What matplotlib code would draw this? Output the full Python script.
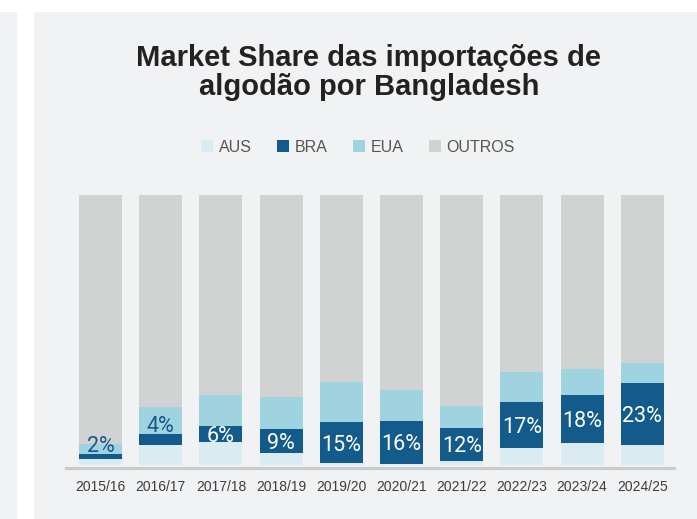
import matplotlib
matplotlib.use("Agg")
import matplotlib.pyplot as plt
from matplotlib.patches import Rectangle, Patch

# dados (% do market share)
safras = ["2015/16", "2016/17", "2017/18", "2018/19", "2019/20",
          "2020/21", "2021/22", "2022/23", "2023/24", "2024/25"]
aus = [2.2, 7.4, 8.4, 4.3, 0.8, 0.4, 1.6, 6.2, 8.0, 7.3]
bra = [2, 4, 6, 9, 15, 16, 12, 17, 18, 23]
eua = [3.4, 10.0, 11.6, 12.0, 15.0, 11.5, 8.1, 11.1, 9.5, 7.4]
outros = [92.4, 78.6, 74.0, 74.7, 69.2, 72.1, 78.3, 65.7, 64.5, 62.3]

cores = {"AUS": "#d9ecf2", "BRA": "#135b8a", "EUA": "#9fd3e0", "OUTROS": "#d1d2d2"}
fundo = "#f1f2f4"

W, H = 697, 519
fig = plt.figure(figsize=(W / 100, H / 100), dpi=100)
fig.patch.set_facecolor("white")

# paineis cinza do fundo
fig.patches.append(Rectangle((0, 0), 16.5 / W, 1 - 12 / H, transform=fig.transFigure,
                             facecolor=fundo, edgecolor="none", zorder=-5))
fig.patches.append(Rectangle((34 / W, 0), 1 - 34 / W, 1 - 12 / H, transform=fig.transFigure,
                             facecolor=fundo, edgecolor="none", zorder=-5))

ax = fig.add_axes([66 / W, (H - 465) / H, 608 / W, 270 / H])
ax.set_facecolor("none")

x = list(range(len(safras)))
larg = 0.714
base = [0] * len(x)
for nome, vals in [("AUS", aus), ("BRA", bra), ("EUA", eua), ("OUTROS", outros)]:
    ax.bar(x, vals, width=larg, bottom=base, color=cores[nome], edgecolor="none", zorder=2)
    base = [b + v for b, v in zip(base, vals)]

# rotulos do Brasil
fonte_rot = {"family": "Roboto", "weight": "normal", "size": 15.5}
for i in x:
    topo = aus[i] + bra[i]
    txt = f"{bra[i]}%"
    if bra[i] < 5:
        ax.text(i, topo + 0.8, txt, ha="center", va="baseline", color="#1a5888",
                zorder=3, **fonte_rot)
    else:
        ax.text(i, aus[i] + bra[i] / 2, txt, ha="center", va="center_baseline", color="white",
                zorder=3, **fonte_rot)

ax.axhline(-1.1, xmin=0, xmax=1, color="#cbcbcb", lw=2.3, clip_on=False, zorder=1)

ax.set_xlim(-0.573, 9.527)
ax.set_ylim(0, 100)
ax.set_xticks(x)
ax.set_xticklabels(safras, fontsize=10, color="#3d3d3d", family="Liberation Sans")
ax.tick_params(axis="x", length=0, pad=11)
ax.set_yticks([])
for s in ax.spines.values():
    s.set_visible(False)

fig.text(369 / W, 1 - 95 / H, "Market Share das importações de\nalgodão por Bangladesh",
         ha="center", va="baseline", fontsize=21, fontweight="bold", color="#222222",
         family="Liberation Sans", linespacing=1.05, multialignment="center")

handles = [Patch(facecolor=cores[n], edgecolor="none", label=n) for n in cores]
fig.legend(handles=handles, loc="center", bbox_to_anchor=(358 / W, 1 - 147 / H), ncol=4,
           frameon=False, prop={"family": "Liberation Sans", "size": 11.5},
           labelcolor="#555555", handlelength=0.75, handleheight=0.75,
           handletextpad=0.35, columnspacing=1.6)

fig.savefig("out.png", dpi=100, facecolor="white")
